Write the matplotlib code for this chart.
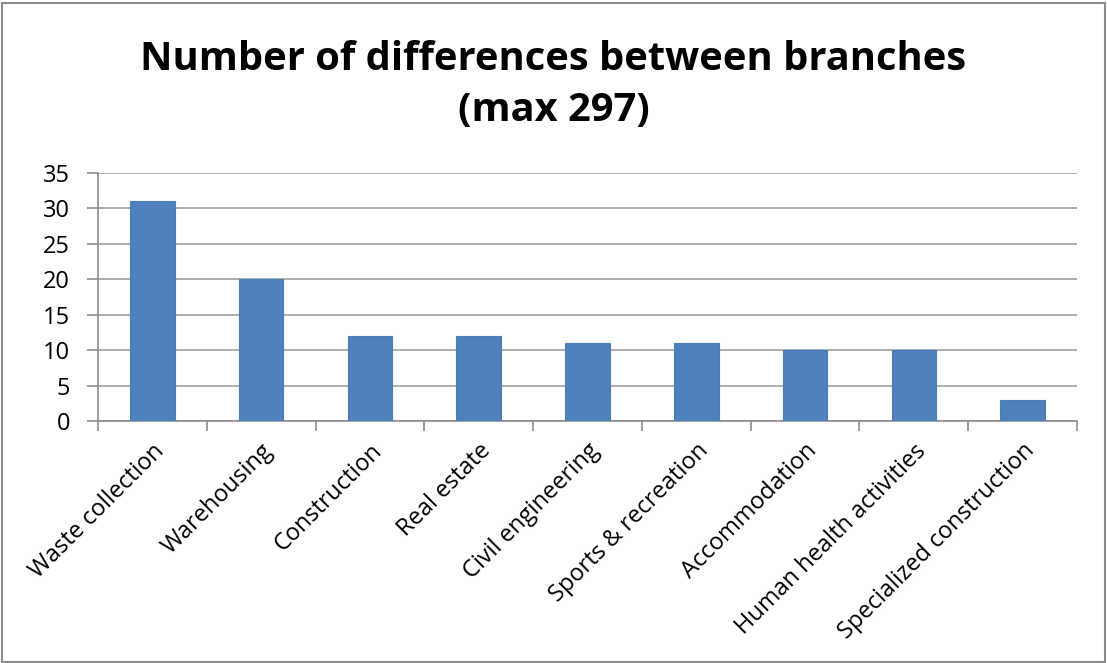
import matplotlib.pyplot as plt
import matplotlib.patches as mpatches

categories = ["Waste collection", "Warehousing", "Construction", "Real estate",
              "Civil engineering", "Sports & recreation", "Accommodation",
              "Human health activities", "Specialized construction"]
values = [31, 20, 12, 12, 11, 11, 10, 10, 3]
yticks = [0, 5, 10, 15, 20, 25, 30, 35]

plt.rcParams['font.family'] = ['Open Sans', 'DejaVu Sans']

fig = plt.figure(figsize=(11.07, 6.63), dpi=100)
ax = fig.add_axes([98 / 1107, 1 - 421 / 663, (1077 - 98) / 1107, (421 - 173) / 663])

x = list(range(len(categories)))
ax.bar(x, values, width=0.41, color="#4F81BD", edgecolor="#4A7EBB", linewidth=0.8, zorder=3)

ax.set_xlim(-0.5, len(categories) - 0.5)
ax.set_ylim(0, 35)
ax.set_yticks(yticks)
ax.yaxis.grid(True, color="#A0A0A0", linewidth=1.2, zorder=0)

for s in ["top", "right"]:
    ax.spines[s].set_visible(False)
for s in ["left", "bottom"]:
    ax.spines[s].set_color("#8C8C8C")
    ax.spines[s].set_linewidth(1.2)

ax.set_xticks([i - 0.5 for i in range(len(categories) + 1)], minor=False)
ax.set_xticklabels([])
ax.set_xticks(x, minor=True)
ax.set_xticklabels(categories, minor=True, rotation=45, ha="right", va="top",
                   rotation_mode="anchor", fontsize=17)
ax.tick_params(axis="x", which="major", length=7, width=1.2, color="#8C8C8C", direction="out")
ax.tick_params(axis="x", which="minor", length=0, pad=13)
ax.tick_params(axis="y", length=8, width=1.2, color="#8C8C8C", labelsize=17, pad=12)

fig.text(0.5, 0.872, "Number of differences between branches\n(max 297)", ha="center", va="center",
         fontsize=28.7, fontweight="bold", linespacing=1.4)

fig.patches.append(mpatches.Rectangle((0.002, 0.002), 0.996, 0.994, transform=fig.transFigure,
                                      fill=False, edgecolor="#8C8C8C", linewidth=1.5))

fig.savefig("out.png", dpi=100)
